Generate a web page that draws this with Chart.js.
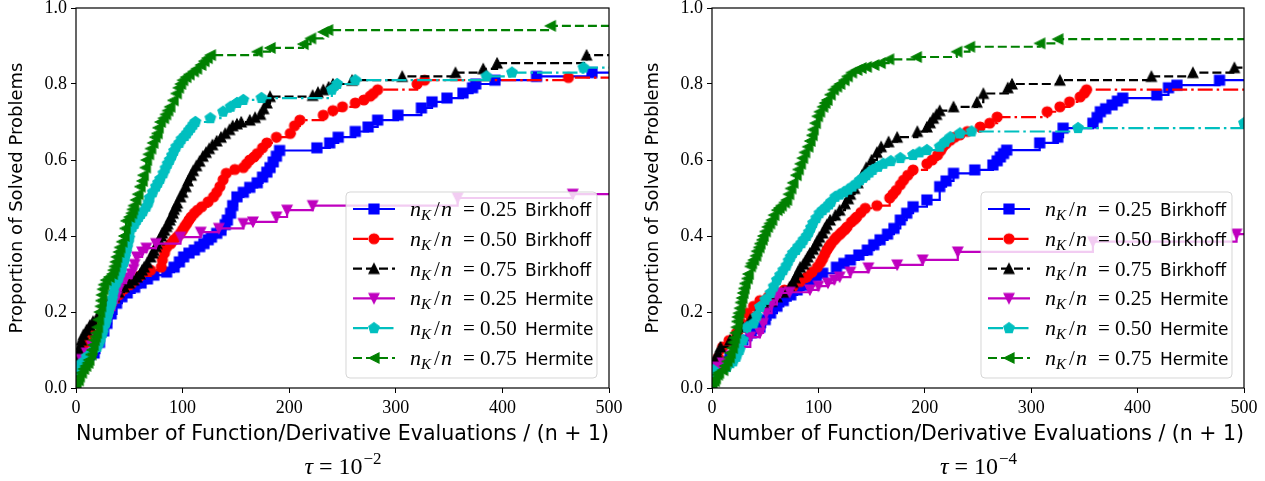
<!DOCTYPE html>
<html>
<head>
<meta charset="utf-8">
<script src="https://cdn.jsdelivr.net/npm/chart.js@4.4.0/dist/chart.umd.min.js"></script>
<style>
  html, body { margin: 0; padding: 0; background: #fff; }
  body { width: 1265px; height: 481px; position: relative; overflow: hidden; }
  canvas { position: absolute; top: 0; }
  #left { left: 0; }
  #right { left: 636px; }
</style>
</head>
<body>
<canvas id="left" width="632" height="481"></canvas>
<canvas id="right" width="629" height="481"></canvas>
<script>

// axis ticks
const xTicks = [0, 100, 200, 300, 400, 500];
const yTicks = [0, 0.2, 0.4, 0.6, 0.8, 1.0];
const yTickLabels = ["0.0", "0.2", "0.4", "0.6", "0.8", "1.0"];

// legend pieces
const ratios  = ["0.25", "0.50", "0.75", "0.25", "0.50", "0.75"];
const methods = ["Birkhoff", "Birkhoff", "Birkhoff", "Hermite", "Hermite", "Hermite"];
const tauExponents = ["2", "4"];

// tau = 1e-2 : [evaluations/(n+1), proportion solved]
const tau2_birk25 = [[0,0.04],[5,0.06],[10,0.075],[17,0.092],[22,0.12],[26,0.15],[29,0.17],[33,0.195],[38,0.223],[43,0.24],[48,0.25],[55,0.265],[61,0.276],[67,0.287],[73,0.297],[85,0.305],[92,0.318],[97,0.332],[101,0.345],[106,0.355],[111,0.363],[116,0.372],[120,0.38],[124,0.39],[127,0.397],[132,0.407],[136,0.415],[140,0.43],[142,0.442],[145,0.46],[147,0.48],[151,0.503],[157,0.515],[163,0.528],[170,0.54],[175,0.555],[179,0.568],[182,0.58],[185,0.595],[188,0.61],[191,0.625],[226,0.632],[238,0.645],[246,0.66],[262,0.675],[274,0.687],[283,0.705],[302,0.718],[324,0.737],[334,0.753],[348,0.763],[363,0.776],[372,0.79],[375,0.80],[393,0.81],[432,0.82],[484,0.83],[500,0.83]];
const tau2_birk50 = [[0,0.05],[1,0.06],[3,0.08],[6,0.1],[10,0.12],[14,0.145],[20,0.17],[26,0.2],[33,0.225],[40,0.245],[45,0.26],[52,0.275],[60,0.295],[70,0.31],[80,0.318],[81,0.337],[83,0.355],[85,0.37],[89,0.38],[92,0.39],[95,0.398],[98,0.407],[100,0.416],[102,0.425],[104,0.433],[106,0.442],[108,0.45],[111,0.46],[114,0.468],[118,0.477],[124,0.49],[129,0.503],[132,0.515],[135,0.53],[138,0.548],[141,0.565],[149,0.575],[157,0.58],[160,0.59],[163,0.60],[167,0.608],[170,0.617],[175,0.632],[179,0.645],[188,0.66],[201,0.67],[205,0.69],[210,0.705],[232,0.718],[241,0.73],[250,0.74],[262,0.75],[270,0.758],[276,0.768],[279,0.775],[283,0.785],[320,0.80],[327,0.81],[462,0.817],[500,0.817]];
const tau2_birk75 = [[0,0.05],[1,0.065],[2,0.08],[3,0.1],[4,0.113],[5,0.126],[7,0.14],[10,0.153],[13,0.165],[16,0.175],[20,0.187],[23,0.197],[26,0.207],[30,0.22],[33,0.23],[36,0.24],[40,0.252],[45,0.266],[50,0.276],[54,0.284],[57,0.292],[60,0.30],[62,0.31],[64,0.318],[67,0.33],[70,0.345],[72,0.355],[73,0.362],[75,0.372],[76,0.38],[78,0.39],[80,0.40],[81,0.408],[83,0.415],[85,0.425],[86,0.432],[88,0.442],[89,0.45],[91,0.46],[92,0.47],[94,0.478],[95,0.487],[98,0.503],[100,0.515],[103,0.53],[105,0.545],[108,0.56],[110,0.572],[113,0.585],[116,0.597],[119,0.61],[122,0.62],[125,0.63],[128,0.64],[132,0.65],[136,0.66],[140,0.67],[144,0.68],[147,0.69],[151,0.695],[155,0.70],[163,0.705],[168,0.712],[173,0.72],[176,0.735],[179,0.75],[182,0.767],[222,0.77],[227,0.778],[232,0.785],[237,0.792],[241,0.80],[259,0.81],[306,0.82],[356,0.83],[382,0.84],[395,0.855],[479,0.876],[500,0.876]];
const tau2_herm25 = [[0,0.04],[1,0.055],[5,0.075],[10,0.092],[15,0.11],[20,0.13],[26,0.16],[30,0.185],[33,0.205],[36,0.225],[38,0.24],[40,0.258],[42,0.276],[47,0.29],[52,0.30],[54,0.312],[55,0.325],[57,0.345],[62,0.358],[66,0.368],[75,0.38],[98,0.397],[117,0.41],[134,0.42],[157,0.433],[166,0.437],[188,0.45],[198,0.468],[222,0.48],[358,0.50],[466,0.51],[500,0.51]];
const tau2_herm50 = [[0,0.03],[1,0.047],[5,0.065],[10,0.082],[15,0.095],[20,0.108],[22,0.12],[23,0.13],[25,0.145],[26,0.16],[28,0.172],[29,0.185],[30,0.195],[31,0.205],[33,0.22],[34,0.235],[35,0.25],[36,0.266],[38,0.278],[40,0.29],[42,0.305],[43,0.318],[45,0.332],[46,0.345],[47,0.358],[48,0.37],[49,0.383],[50,0.395],[51,0.415],[53,0.424],[55,0.432],[57,0.442],[59,0.45],[61,0.458],[63,0.465],[66,0.477],[68,0.488],[69,0.50],[72,0.515],[75,0.53],[77,0.54],[79,0.55],[82,0.565],[84,0.578],[86,0.59],[88,0.60],[90,0.612],[92,0.624],[94,0.635],[97,0.645],[99,0.655],[102,0.663],[104,0.67],[106,0.678],[108,0.685],[110,0.693],[112,0.70],[126,0.71],[138,0.727],[145,0.74],[151,0.75],[157,0.758],[174,0.763],[240,0.785],[245,0.80],[262,0.81],[385,0.82],[409,0.83],[476,0.843],[500,0.843]];
const tau2_herm75 = [[0,0.008],[2,0.02],[3,0.03],[5,0.04],[7,0.05],[9,0.058],[11,0.066],[12,0.074],[14,0.088],[15,0.1],[16,0.113],[17,0.126],[18,0.135],[19,0.145],[20,0.16],[21,0.18],[22,0.2],[23,0.215],[23.5,0.23],[24,0.245],[25,0.26],[26,0.272],[28,0.284],[31,0.292],[34,0.30],[35,0.31],[36,0.32],[37,0.332],[38,0.345],[40,0.358],[41,0.37],[43,0.385],[45,0.40],[46,0.42],[47,0.44],[50,0.45],[52,0.46],[53,0.47],[54,0.48],[56,0.495],[58,0.51],[60,0.53],[62,0.545],[63,0.56],[65,0.58],[66,0.60],[68,0.615],[70,0.63],[72,0.645],[74,0.66],[76,0.67],[77,0.685],[79,0.70],[82,0.71],[84,0.72],[86,0.73],[88,0.74],[91,0.757],[94,0.775],[96,0.79],[98,0.80],[100,0.81],[103,0.818],[106,0.825],[110,0.833],[113,0.84],[117,0.85],[120,0.86],[123,0.868],[126,0.876],[170,0.885],[182,0.895],[213,0.905],[220,0.92],[232,0.937],[236,0.942],[445,0.953],[500,0.953]];

// tau = 1e-4
const tau4_birk25 = [[0,0.04],[5,0.06],[10,0.07],[17,0.082],[23,0.105],[29,0.126],[37,0.145],[45,0.16],[50,0.18],[55,0.197],[61,0.215],[67,0.23],[74,0.245],[80,0.258],[86,0.27],[92,0.284],[98,0.295],[104,0.302],[117,0.318],[124,0.328],[130,0.337],[138,0.35],[146,0.363],[152,0.377],[158,0.39],[165,0.405],[171,0.42],[177,0.442],[183,0.46],[189,0.477],[202,0.495],[214,0.53],[220,0.545],[227,0.565],[247,0.574],[264,0.587],[268,0.598],[271,0.608],[274,0.617],[277,0.626],[308,0.645],[325,0.66],[330,0.684],[358,0.697],[362,0.712],[365,0.727],[370,0.735],[376,0.745],[381,0.755],[386,0.763],[418,0.771],[429,0.79],[437,0.797],[477,0.81],[500,0.81]];
const tau4_birk50 = [[0,0.05],[3,0.055],[6,0.08],[10,0.108],[16,0.125],[23,0.145],[28,0.17],[33,0.197],[39,0.215],[45,0.23],[53,0.24],[61,0.25],[68,0.258],[76,0.266],[83,0.28],[89,0.292],[94,0.305],[99,0.318],[102,0.33],[104,0.34],[106,0.352],[108,0.363],[110,0.372],[112,0.38],[115,0.39],[117,0.397],[120,0.404],[122,0.41],[125,0.417],[127,0.424],[131,0.437],[134,0.444],[136,0.45],[140,0.462],[144,0.473],[155,0.48],[167,0.50],[170,0.51],[173,0.52],[177,0.535],[180,0.547],[184,0.56],[189,0.574],[202,0.59],[207,0.60],[212,0.613],[215,0.625],[217,0.635],[220,0.643],[224,0.652],[228,0.66],[233,0.666],[240,0.675],[252,0.687],[261,0.697],[268,0.713],[315,0.727],[327,0.74],[336,0.753],[346,0.766],[350,0.776],[352,0.785],[500,0.785]];
const tau4_birk75 = [[0,0.06],[3,0.074],[5,0.09],[8,0.108],[17,0.126],[23,0.143],[29,0.16],[36,0.18],[42,0.197],[50,0.215],[56,0.228],[61,0.24],[67,0.252],[73,0.266],[76,0.278],[78,0.29],[81,0.305],[83,0.318],[86,0.326],[88,0.335],[90,0.345],[92,0.355],[95,0.365],[97,0.375],[99,0.386],[101,0.397],[104,0.408],[106,0.42],[108,0.43],[111,0.442],[116,0.455],[120,0.468],[125,0.485],[128,0.498],[130,0.51],[134,0.525],[137,0.54],[141,0.56],[145,0.58],[150,0.60],[155,0.62],[159,0.635],[166,0.648],[174,0.66],[193,0.675],[202,0.687],[205,0.698],[208,0.71],[211,0.72],[214,0.73],[227,0.74],[249,0.752],[255,0.775],[278,0.79],[282,0.80],[327,0.81],[413,0.82],[452,0.83],[491,0.843],[500,0.843]];
const tau4_herm25 = [[0,0.035],[1,0.04],[5,0.055],[10,0.066],[18,0.085],[26,0.108],[36,0.134],[45,0.145],[48,0.17],[51,0.197],[56,0.22],[61,0.24],[64,0.25],[73,0.252],[92,0.258],[100,0.268],[109,0.276],[115,0.285],[120,0.292],[130,0.305],[147,0.316],[174,0.324],[198,0.337],[231,0.358],[358,0.385],[493,0.405],[500,0.405]];
const tau4_herm50 = [[0,0.035],[1,0.047],[14,0.055],[20,0.07],[23,0.082],[26,0.1],[29,0.126],[33,0.16],[39,0.17],[42,0.19],[45,0.213],[50,0.232],[55,0.25],[58,0.267],[61,0.284],[64,0.297],[67,0.31],[70,0.322],[72,0.335],[74,0.345],[76,0.355],[79,0.363],[81,0.372],[84,0.381],[86,0.39],[89,0.4],[91,0.41],[93,0.422],[95,0.434],[98,0.447],[101,0.46],[104,0.468],[107,0.475],[110,0.483],[112,0.49],[116,0.503],[120,0.509],[124,0.515],[128,0.522],[132,0.53],[136,0.538],[139,0.547],[142,0.553],[145,0.56],[148,0.567],[151,0.574],[156,0.582],[161,0.59],[168,0.597],[177,0.605],[189,0.613],[195,0.62],[202,0.626],[214,0.635],[219,0.648],[224,0.66],[233,0.67],[244,0.675],[344,0.684],[500,0.697]];
const tau4_herm75 = [[0,0.008],[2,0.018],[3,0.025],[5,0.035],[6,0.04],[10,0.047],[12,0.058],[14,0.07],[16,0.08],[17,0.092],[19,0.105],[20,0.12],[21,0.132],[22,0.145],[23,0.16],[23.5,0.175],[24,0.187],[25,0.197],[26,0.21],[27,0.225],[28,0.237],[29,0.25],[30,0.262],[31,0.275],[33,0.288],[34,0.30],[36,0.32],[37,0.328],[39,0.337],[41,0.348],[42,0.36],[44,0.37],[45,0.38],[47,0.39],[48,0.40],[50,0.412],[52,0.424],[54,0.433],[56,0.442],[58,0.455],[61,0.468],[63,0.474],[65,0.48],[68,0.488],[70,0.495],[72,0.51],[74,0.525],[76,0.54],[79,0.56],[81,0.575],[83,0.59],[85,0.605],[87,0.62],[90,0.635],[92,0.65],[94,0.665],[95,0.68],[97,0.697],[99,0.715],[101,0.727],[104,0.74],[106,0.75],[108,0.758],[111,0.772],[114,0.785],[117,0.793],[120,0.80],[124,0.81],[127,0.82],[131,0.83],[136,0.837],[140,0.842],[145,0.845],[152,0.85],[158,0.855],[166,0.865],[192,0.871],[230,0.885],[242,0.898],[308,0.907],[325,0.918],[500,0.918]];

const seriesTau2 = [tau2_birk25, tau2_birk50, tau2_birk75, tau2_herm25, tau2_herm50, tau2_herm75];
const seriesTau4 = [tau4_birk25, tau4_birk50, tau4_birk75, tau4_herm25, tau4_herm50, tau4_herm75];

const styles = [
    { color: "#0000ff", marker: "square",   dash: [] },
    { color: "#ff0000", marker: "circle",   dash: [15, 4, 2.5, 4] },
    { color: "#000000", marker: "triUp",    dash: [9, 4] },
    { color: "#bf00bf", marker: "triDown",  dash: [] },
    { color: "#00bfbf", marker: "pentagon", dash: [15, 4, 2.5, 4] },
    { color: "#008000", marker: "triLeft",  dash: [9, 4] }
];

// matplotlib-like markers drawn once on small canvases
function makeMarker(kind, color) {
    const c = document.createElement("canvas");
    c.width = 14; c.height = 14;
    const g = c.getContext("2d");
    g.translate(7, 7);
    g.fillStyle = color;
    g.strokeStyle = color;
    g.lineWidth = 1.2;
    const r = 5;
    g.beginPath();
    if (kind === "square") {
        g.rect(-r, -r, 2 * r, 2 * r);
    } else if (kind === "circle") {
        g.arc(0, 0, r, 0, Math.PI * 2);
    } else if (kind === "pentagon") {
        for (let k = 0; k < 5; k++) {
            const a = -Math.PI / 2 + k * 2 * Math.PI / 5;
            const px = r * 1.1 * Math.cos(a), py = r * 1.1 * Math.sin(a);
            if (k === 0) g.moveTo(px, py); else g.lineTo(px, py);
        }
    } else {
        let pts;
        if (kind === "triUp") pts = [[0, -r], [-r, r], [r, r]];
        else if (kind === "triDown") pts = [[0, r], [-r, -r], [r, -r]];
        else pts = [[-r, 0], [r, -r], [r, r]];
        g.moveTo(pts[0][0], pts[0][1]);
        g.lineTo(pts[1][0], pts[1][1]);
        g.lineTo(pts[2][0], pts[2][1]);
    }
    g.closePath();
    g.fill();
    g.stroke();
    return c;
}

const markers = styles.map(s => makeMarker(s.marker, s.color));

function drawLegendText(ctx, x, yb, ratio, method) {
    ctx.fillStyle = "#000";
    ctx.textAlign = "left";
    ctx.textBaseline = "alphabetic";
    ctx.font = 'italic 22px "Liberation Serif"';
    ctx.fillText("n", x, yb);
    ctx.fillText("n", x + 31, yb);
    ctx.font = 'italic 15px "Liberation Serif"';
    ctx.fillText("K", x + 11, yb + 4);
    ctx.font = '21px "Liberation Serif"';
    ctx.fillText("/", x + 24, yb);
    ctx.fillText("= " + ratio, x + 53, yb);
    ctx.font = '17px "DejaVu Sans"';
    ctx.fillText(method, x + 115, yb);
}

function boxPath(ctx, x, y, w, h, r) {
    ctx.beginPath();
    ctx.moveTo(x + r, y);
    ctx.arcTo(x + w, y, x + w, y + h, r);
    ctx.arcTo(x + w, y + h, x, y + h, r);
    ctx.arcTo(x, y + h, x, y, r);
    ctx.arcTo(x, y, x + w, y, r);
    ctx.closePath();
}

// frame on all four sides + legend inside the axes
const frameAndLegend = {
    id: "frameAndLegend",
    afterDatasetsDraw(chart) {
        const ctx = chart.ctx, a = chart.chartArea;
        ctx.save();
        ctx.strokeStyle = "#000";
        ctx.lineWidth = 1.2;
        ctx.strokeRect(a.left, a.top, a.right - a.left, a.bottom - a.top);

        const w = 251, h = 186;
        const x0 = a.right - 12 - w, y0 = a.bottom - 10 - h;
        boxPath(ctx, x0, y0, w, h, 4);
        ctx.fillStyle = "rgba(255,255,255,0.8)";
        ctx.fill();
        ctx.strokeStyle = "rgba(204,204,204,0.8)";
        ctx.lineWidth = 1;
        ctx.stroke();

        chart.data.datasets.forEach((ds, i) => {
            const cy = y0 + 17 + i * 29.8;
            ctx.setLineDash(styles[i].dash);
            ctx.strokeStyle = styles[i].color;
            ctx.lineWidth = 2.2;
            ctx.beginPath();
            ctx.moveTo(x0 + 7, cy);
            ctx.lineTo(x0 + 49, cy);
            ctx.stroke();
            ctx.setLineDash([]);
            const m = markers[i];
            ctx.drawImage(m, x0 + 28 - m.width / 2, cy - m.height / 2);
            drawLegendText(ctx, x0 + 64, cy + 7, ratios[i], methods[i]);
        });
        ctx.restore();
    }
};

// tau caption under the x axis title
const tauCaption = {
    id: "tauCaption",
    afterDraw(chart) {
        const ctx = chart.ctx, a = chart.chartArea;
        const exp = chart.options.plugins.tauCaption.exponent;
        const yb = 474;
        ctx.save();
        ctx.fillStyle = "#000";
        ctx.textBaseline = "alphabetic";
        ctx.textAlign = "left";
        ctx.font = 'italic 24px "Liberation Serif"';
        const wTau = ctx.measureText("\u03c4").width;
        ctx.font = '24px "Liberation Serif"';
        const wMid = ctx.measureText(" = 10").width;
        ctx.font = '17px "Liberation Serif"';
        const wExp = ctx.measureText("\u2212" + exp).width;
        let x = (a.left + a.right) / 2 - (wTau + wMid + wExp) / 2;
        ctx.font = 'italic 24px "Liberation Serif"';
        ctx.fillText("\u03c4", x, yb);
        x += wTau;
        ctx.font = '24px "Liberation Serif"';
        ctx.fillText(" = 10", x, yb);
        x += wMid + 1;
        ctx.font = '17px "Liberation Serif"';
        ctx.fillText("\u2212" + exp, x, yb - 10);
        ctx.restore();
    }
};

function buildDatasets(series) {
    return series.map((pts, i) => ({
        label: "nK/n = " + ratios[i] + " " + methods[i],
        data: pts,
        borderColor: styles[i].color,
        backgroundColor: styles[i].color,
        borderWidth: 2.2,
        borderDash: styles[i].dash,
        stepped: "before",
        fill: false,
        pointStyle: markers[i],
        pointRadius: function (c) {
            const k = c.dataIndex;
            // no marker on the closing point that only extends the last level
            if (k === pts.length - 1 && pts[k][1] === pts[k - 1][1]) return 0;
            return 5;
        },
        pointHoverRadius: 0,
        order: series.length - i,
        clip: 0
    }));
}

function drawPanel(canvasId, series, exponent, padRight) {
    new Chart(document.getElementById(canvasId), {
        type: "line",
        data: { datasets: buildDatasets(series) },
        options: {
            responsive: false,
            animation: false,
            events: [],
            layout: { padding: { left: 0, top: 8, right: padRight, bottom: 0 } },
            scales: {
                x: {
                    type: "linear",
                    min: 0,
                    max: 500,
                    afterBuildTicks: s => { s.ticks = xTicks.map(v => ({ value: v })); },
                    afterFit: s => { s.height = 93; s.paddingLeft = 0; s.paddingRight = 0; },
                    ticks: {
                        color: "#000",
                        padding: 4,
                        maxRotation: 0,
                        autoSkip: false,
                        font: { family: "Liberation Serif", size: 18 },
                        callback: v => String(v)
                    },
                    grid: { drawOnChartArea: false, tickLength: 5, color: "#000" },
                    border: { display: false },
                    title: {
                        display: true,
                        text: "Number of Function/Derivative Evaluations / (n + 1)",
                        color: "#000",
                        font: { family: "DejaVu Sans", size: 21 },
                        padding: { top: 0, bottom: 34 }
                    }
                },
                y: {
                    type: "linear",
                    min: 0,
                    max: 1,
                    afterBuildTicks: s => { s.ticks = yTicks.map(v => ({ value: v })); },
                    afterFit: s => { s.width = 76; s.paddingTop = 0; s.paddingBottom = 0; },
                    ticks: {
                        color: "#000",
                        padding: 4,
                        font: { family: "Liberation Serif", size: 18 },
                        callback: (v, i) => yTickLabels[i]
                    },
                    grid: { drawOnChartArea: false, tickLength: 5, color: "#000" },
                    border: { display: false },
                    title: {
                        display: true,
                        text: "Proportion of Solved Problems",
                        color: "#000",
                        font: { family: "DejaVu Sans", size: 18 },
                        padding: { top: 7, bottom: 0 }
                    }
                }
            },
            plugins: {
                legend: { display: false },
                tooltip: { enabled: false },
                tauCaption: { exponent: exponent }
            }
        },
        plugins: [frameAndLegend, tauCaption]
    });
}

drawPanel("left", seriesTau2, tauExponents[0], 23);
drawPanel("right", seriesTau4, tauExponents[1], 21);

</script>
</body>
</html>
